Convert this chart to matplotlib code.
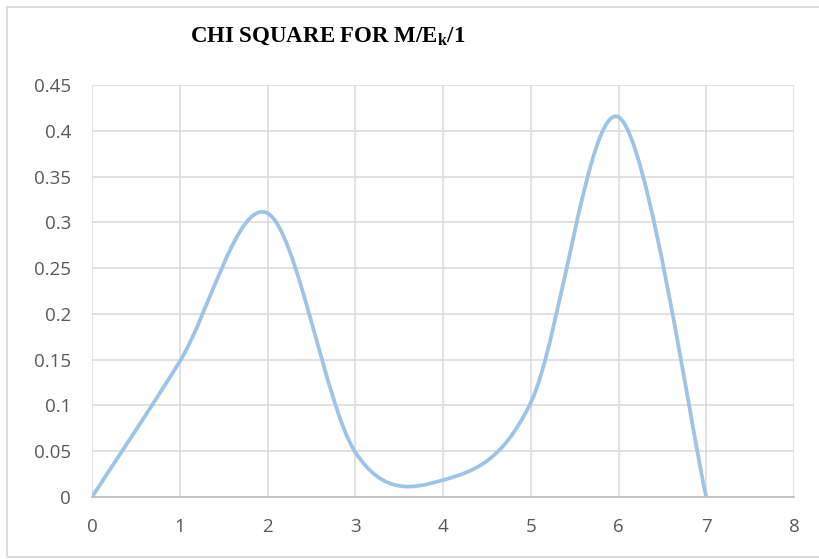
import matplotlib
matplotlib.use("Agg")
import matplotlib.pyplot as plt
import numpy as np
from matplotlib.path import Path
from matplotlib.patches import PathPatch, Rectangle

# values
x_vals = [0, 1, 2, 3, 4, 5, 6, 7]
chi_sq = [0.0, 0.148, 0.31, 0.049, 0.0185, 0.103, 0.415, 0.0]
x_ticks = [0, 1, 2, 3, 4, 5, 6, 7, 8]
y_ticks = [0, 0.05, 0.1, 0.15, 0.2, 0.25, 0.3, 0.35, 0.4, 0.45]
y_labels = ["0", "0.05", "0.1", "0.15", "0.2", "0.25", "0.3", "0.35", "0.4", "0.45"]

LINE = "#9dc3e6"
GRID = "#d9d9d9"
TEXT = "#595959"

plt.rcParams["mathtext.fontset"] = "custom"
plt.rcParams["mathtext.bf"] = "Liberation Serif:bold"
plt.rcParams["mathtext.rm"] = "Liberation Serif:bold"


def smooth_path(xs, ys):
    """Excel-like smoothed line: cubic Bezier through every point."""
    pts = np.column_stack([xs, ys]).astype(float)
    n = len(pts)
    verts = [pts[0]]
    codes = [Path.MOVETO]
    for i in range(n - 1):
        p0 = pts[max(i - 1, 0)]
        p1 = pts[i]
        p2 = pts[i + 1]
        p3 = pts[min(i + 2, n - 1)]
        c1 = p1 + (p2 - p0) / 6.0
        c2 = p2 - (p3 - p1) / 6.0
        verts += [c1, c2, p2]
        codes += [Path.CURVE4] * 3
    return Path(verts, codes)


fig = plt.figure(figsize=(8.19, 5.59), dpi=100)
ax = fig.add_axes([92 / 819, 1 - 497 / 559, (794 - 92) / 819, (497 - 85) / 559])

# chart border
fig.patches.append(Rectangle((7 / 819, 2 / 559), 1.0, 550 / 559, transform=fig.transFigure,
                             fill=False, edgecolor=GRID, linewidth=1.3))

ax.add_patch(PathPatch(smooth_path(x_vals, chi_sq), facecolor="none", edgecolor=LINE,
                       linewidth=2.7, capstyle="round", joinstyle="round", zorder=3))

ax.set_xlim(0, 8)
ax.set_ylim(0, 0.45)
ax.set_xticks(x_ticks)
ax.set_yticks(y_ticks)
ax.set_yticklabels(y_labels)
ax.grid(True, color=GRID, linewidth=1.1)
ax.set_axisbelow(True)
for side in ["top", "right", "left"]:
    ax.spines[side].set_visible(False)
ax.spines["bottom"].set_color("#bfbfbf")
ax.spines["bottom"].set_linewidth(1.3)
ax.tick_params(length=0, labelsize=13.5, labelcolor=TEXT, pad=15)
for lab in ax.get_xticklabels() + ax.get_yticklabels():
    lab.set_fontfamily("Open Sans")

fig.text(190 / 819, 1 - 42 / 559, r"CHI SQUARE FOR M/E$_\mathbf{k}$/1", family="Liberation Serif",
         fontweight="bold", fontsize=16.5, ha="left", va="baseline", color="black")

fig.savefig("out.png", dpi=100)
